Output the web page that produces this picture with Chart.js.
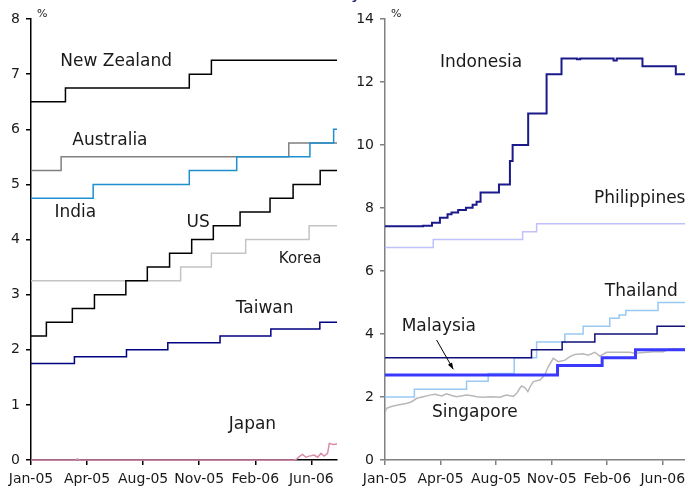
<!DOCTYPE html>
<html>
<head>
<meta charset="utf-8">
<script src="https://cdn.jsdelivr.net/npm/chart.js@4.4.1/dist/chart.umd.min.js"></script>
<style>
  html, body { margin: 0; padding: 0; background: #fff; overflow: hidden; }
  body { width: 685px; height: 490px; position: relative; overflow: hidden; font-family: "DejaVu Sans", Verdana, sans-serif; }
  #title { position: absolute; top: -17px; left: 310px; font-size: 18px; line-height: 18px; color: #1c2a6b; white-space: nowrap; }
  .panel { position: absolute; top: 0; }
  #left { left: 0; }
  #right { left: 345px; }
</style>
</head>
<body>
<div id="title">Policy rates</div>
<canvas id="left" class="panel" width="345" height="490"></canvas>
<canvas id="right" class="panel" width="370" height="490"></canvas>
<script>
// x values are months since 1 Jan 2005
var tickPos = [0, 3.5, 7, 10.5, 14, 17.5];
var tickLabels = ['Jan-05', 'Apr-05', 'Aug-05', 'Nov-05', 'Feb-06', 'Jun-06'];
var endMonth = 19.1;

// left panel, [month, %] at each change
var newZealand = [[0, 6.5], [2.15, 6.75], [9.88, 7], [11.26, 7.25]];
var australia = [[0, 5.25], [1.88, 5.5], [16.09, 5.75]];
var india = [[0, 4.75], [3.88, 5], [9.88, 5.25], [12.84, 5.5], [17.41, 5.75], [18.89, 6]];
var us = [[0, 2.25], [0.96, 2.5], [2.58, 2.75], [3.96, 3], [5.92, 3.25], [7.26, 3.5], [8.65, 3.75],
          [10.03, 4], [11.38, 4.25], [13.05, 4.5], [14.92, 4.75], [16.36, 5], [18.05, 5.25]];
var korea = [[0, 3.25], [9.34, 3.5], [11.26, 3.75], [13.4, 4], [17.36, 4.25]];
var taiwan = [[0, 1.75], [2.71, 1.875], [5.96, 2], [8.54, 2.125], [11.8, 2.25], [14.97, 2.375], [18.03, 2.5]];
var japan = [[0, 0.001], [2.8, 0.001], [2.9, 0.02], [3.0, 0.001], [16.43, 0.001], [16.6, 0.02], [16.74, 0.06],
             [16.95, 0.1], [17.16, 0.05], [17.36, 0.07], [17.68, 0.09], [17.89, 0.05], [18.1, 0.12],
             [18.3, 0.07], [18.51, 0.12], [18.62, 0.3], [18.75, 0.29], [18.9, 0.28], [19.1, 0.29]];

// right panel
var indonesia = [[0, 7.42], [2.4, 7.44], [2.96, 7.53], [3.46, 7.69], [3.94, 7.8], [4.19, 7.86], [4.61, 7.94],
                 [5.1, 8.01], [5.52, 8.1], [5.77, 8.2], [6.02, 8.49], [7.18, 8.75], [7.87, 9.49], [8.04, 10],
                 [9.02, 11], [10.18, 12.25], [11.12, 12.75], [12.1, 12.72], [12.3, 12.75], [14.4, 12.68],
                 [14.6, 12.75], [16.22, 12.5], [18.32, 12.25]];
var philippines = [[0, 6.75], [3.04, 7], [8.67, 7.25], [9.55, 7.5]];
var thailand = [[0, 2], [1.85, 2.25], [5.14, 2.5], [6.5, 2.75], [8.14, 3.25], [9.55, 3.75], [11.33, 4],
                [12.48, 4.25], [14.16, 4.5], [14.75, 4.6], [15.17, 4.75], [17.2, 5]];
var otherRate = [[0, 3.25], [9.23, 3.5], [11.16, 3.75], [13.22, 4], [17.14, 4.25]];
var malaysia = [[0, 2.7], [10.87, 3], [13.68, 3.25], [15.78, 3.5]];
var singapore = [[0, 1.5], [0.1, 1.64], [0.4, 1.7], [0.74, 1.74], [1.15, 1.78], [1.4, 1.8], [1.68, 1.85],
                 [2.0, 1.96], [2.41, 2.01], [2.83, 2.06], [3.15, 2.09], [3.57, 2.03], [3.88, 2.1], [4.2, 2.05],
                 [4.51, 2.01], [5.14, 2.06], [5.5, 2.04], [5.77, 2.01], [6.2, 1.99], [6.61, 2.01], [7.0, 2.0],
                 [7.24, 1.99], [7.66, 2.06], [8.08, 2.02], [8.3, 2.12], [8.5, 2.28], [8.6, 2.35], [8.8, 2.3],
                 [9.0, 2.17], [9.13, 2.31], [9.34, 2.49], [9.76, 2.54], [10.07, 2.7], [10.28, 2.96],
                 [10.6, 3.23], [10.91, 3.12], [11.33, 3.17], [11.65, 3.28], [11.96, 3.35], [12.48, 3.37],
                 [12.8, 3.33], [13.22, 3.42], [13.53, 3.3], [13.96, 3.42], [14.79, 3.42], [15.42, 3.42],
                 [15.74, 3.39], [16.89, 3.44], [17.52, 3.44], [17.94, 3.52], [19.1, 3.53]];

var FONT = '"DejaVu Sans", Verdana, sans-serif';

function pts(list) {
    return list.map(function(p) { return {x: p[0], y: p[1]}; });
}

// step series: hold the last value to the end of the sample
function steps(list) {
    return pts(list.concat([[endMonth, list[list.length - 1][1]]]));
}

function line(label, data, color, width, stepped) {
    return {
        label: label,
        data: data,
        borderColor: color,
        borderWidth: width || 1.5,
        stepped: stepped === false ? false : true,
        pointRadius: 0,
        fill: false
    };
}

var notesPlugin = {
    id: 'notes',
    afterDatasetsDraw: function(chart, args, opts) {
        var ctx = chart.ctx, xs = chart.scales.x, ys = chart.scales.y;
        ctx.save();
        ctx.fillStyle = '#1a1a1a';
        ctx.textAlign = 'left';
        ctx.textBaseline = 'middle';
        (opts.notes || []).forEach(function(n) {
            ctx.font = (n.size || 17) + 'px ' + FONT;
            ctx.fillText(n.text, xs.getPixelForValue(n.x), ys.getPixelForValue(n.y));
        });
        ctx.font = '11px ' + FONT;
        ctx.fillText('%', chart.chartArea.left + 6, chart.chartArea.top - 5);

        if (opts.arrow) {
            var a = opts.arrow;
            var x1 = xs.getPixelForValue(a[0]), y1 = ys.getPixelForValue(a[1]);
            var x2 = xs.getPixelForValue(a[2]), y2 = ys.getPixelForValue(a[3]);
            var ang = Math.atan2(y2 - y1, x2 - x1);
            ctx.strokeStyle = '#000';
            ctx.fillStyle = '#000';
            ctx.lineWidth = 1;
            ctx.beginPath();
            ctx.moveTo(x1, y1);
            ctx.lineTo(x2, y2);
            ctx.stroke();
            ctx.beginPath();
            ctx.moveTo(x2, y2);
            ctx.lineTo(x2 - 7 * Math.cos(ang - 0.35), y2 - 7 * Math.sin(ang - 0.35));
            ctx.lineTo(x2 - 7 * Math.cos(ang + 0.35), y2 - 7 * Math.sin(ang + 0.35));
            ctx.closePath();
            ctx.fill();
        }
        ctx.restore();
    }
};

function options(cfg) {
    var tickFont = {family: FONT, size: 14};
    return {
        responsive: false,
        animation: false,
        layout: {padding: {top: 19, right: cfg.padRight, left: 0, bottom: 0}},
        plugins: {
            legend: {display: false},
            tooltip: {enabled: false},
            notes: {notes: cfg.notes, arrow: cfg.arrow}
        },
        scales: {
            x: {
                type: 'linear',
                min: 0,
                max: cfg.xMax,
                grid: {drawOnChartArea: false, drawTicks: true, tickLength: 5, color: cfg.axisColor, lineWidth: 1.5},
                border: {color: cfg.axisColor, width: 1.5},
                ticks: {
                    autoSkip: false, maxRotation: 0, minRotation: 0, padding: 6,
                    color: '#1a1a1a', font: tickFont,
                    callback: function(v, i) { return tickLabels[i]; }
                },
                afterBuildTicks: function(s) { s.ticks = tickPos.map(function(v) { return {value: v}; }); },
                afterFit: function(s) { s.height = 30; }
            },
            y: {
                min: 0,
                max: cfg.yMax,
                grid: {drawOnChartArea: false, drawTicks: true, tickLength: 5, color: cfg.axisColor, lineWidth: 1.5},
                border: {color: cfg.axisColor, width: 1.5},
                ticks: {stepSize: cfg.yStep, padding: 6, color: '#1a1a1a', font: tickFont},
                afterFit: function(s) { s.width = cfg.yWidth; }
            }
        }
    };
}

var japanLine = line('Japan', pts(japan), '#d98cab', 1.5, false);
japanLine.clip = false;

new Chart(document.getElementById('left'), {
    type: 'line',
    data: {
        datasets: [
            line('US', steps(us), '#000000'),
            line('New Zealand', steps(newZealand), '#000000'),
            line('India', steps(india), '#1f8fd0'),
            line('Australia', steps(australia), '#808080'),
            line('Korea', steps(korea), '#c4c4c4'),
            line('Taiwan', steps(taiwan), '#000080'),
            japanLine
        ]
    },
    options: options({
        xMax: 19.1, yMax: 8, yStep: 1, yWidth: 31, padRight: 8, axisColor: '#000000',
        notes: [
            {text: 'New Zealand', x: 1.83, y: 7.22},
            {text: 'Australia', x: 2.58, y: 5.79},
            {text: 'India', x: 1.46, y: 4.48},
            {text: 'US', x: 9.71, y: 4.31},
            {text: 'Korea', x: 15.47, y: 3.65, size: 15},
            {text: 'Taiwan', x: 12.78, y: 2.74},
            {text: 'Japan', x: 12.34, y: 0.64}
        ]
    }),
    plugins: [notesPlugin]
});

// right canvas runs past the page edge, like the cropped original
new Chart(document.getElementById('right'), {
    type: 'line',
    data: {
        datasets: [
            line('Indonesia', steps(indonesia), '#1a1a8a', 2),
            line('Malaysia', steps(malaysia), '#3a3aff', 3),
            line('Other', steps(otherRate), '#10107a'),
            line('Thailand', steps(thailand), '#99c9f2'),
            line('Philippines', steps(philippines), '#c0c0fa'),
            line('Singapore', pts(singapore), '#b8b8b8', 1.5, false)
        ]
    },
    options: options({
        xMax: 18.9, yMax: 14, yStep: 2, yWidth: 40, padRight: 30, axisColor: '#808080',
        notes: [
            {text: 'Indonesia', x: 3.46, y: 12.63},
            {text: 'Philippines', x: 13.16, y: 8.29},
            {text: 'Thailand', x: 13.85, y: 5.34},
            {text: 'Malaysia', x: 1.05, y: 4.22},
            {text: 'Singapore', x: 2.96, y: 1.52}
        ],
        arrow: [3.25, 3.81, 4.3, 2.88]
    }),
    plugins: [notesPlugin]
});
</script>
</body>
</html>
